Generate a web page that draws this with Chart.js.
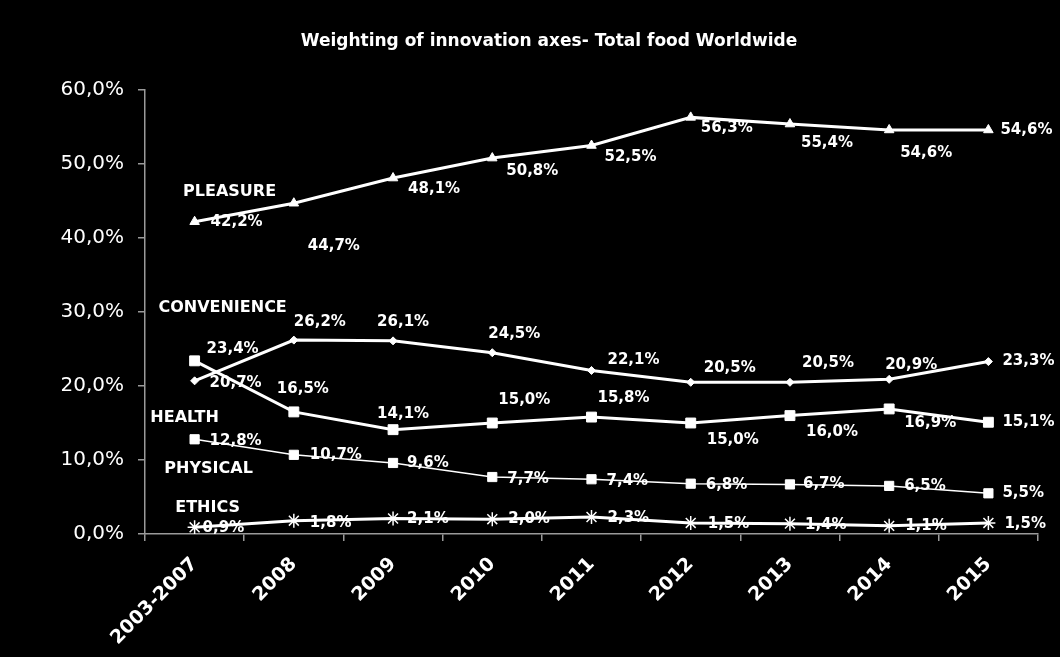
<!DOCTYPE html>
<html>
<head>
<meta charset="utf-8">
<script src="https://cdn.jsdelivr.net/npm/chart.js@4/dist/chart.umd.min.js"></script>
<style>
  html, body { margin: 0; padding: 0; background: #000; }
  #wrap { width: 1060px; height: 657px; position: relative; }
</style>
</head>
<body>
<div id="wrap"><canvas id="c" width="1060" height="657"></canvas></div>
<script>
// ---- data ----
const categories = ['2003-2007','2008','2009','2010','2011','2012','2013','2014','2015'];
const pleasure    = [42.2, 44.7, 48.1, 50.8, 52.5, 56.3, 55.4, 54.6, 54.6];
const convenience = [20.7, 26.2, 26.1, 24.5, 22.1, 20.5, 20.5, 20.9, 23.3];
const health      = [23.4, 16.5, 14.1, 15.0, 15.8, 15.0, 16.0, 16.9, 15.1];
const physical    = [12.8, 10.7, 9.6, 7.7, 7.4, 6.8, 6.7, 6.5, 5.5];
const ethics      = [0.9, 1.8, 2.1, 2.0, 2.3, 1.5, 1.4, 1.1, 1.5];
const seriesNames = ['PLEASURE','CONVENIENCE','HEALTH','PHYSICAL','ETHICS'];
const titleText = 'Weighting of innovation axes- Total food Worldwide';

// ---- label placement (left edge dx, vertical centre dy, px from point) ----
const labelOffsets = [
  [[16,0],[14,43],[15,11],[14,13],[13,12],[10,11],[11,19],[11,23],[12,0]],
  [[15,2],[0,-18],[-16,-19],[-4,-19],[16,-10],[13,-14],[12,-19],[-4,-14],[14,0]],
  [[12,-12],[-17,-23],[-16,-16],[6,-23],[6,-19],[16,17],[16,17],[15,14],[14,0]],
  [[15,2],[16,0],[14,0],[15,2],[15,2],[15,1],[13,0],[15,0],[14,0]],
  [[8,1],[16,2],[14,1],[16,0],[16,1],[17,1],[15,1],[16,0],[16,1]]
];
// series name annotations: [dx from first category centre (label centre), y value]
const nameAnchors = [[35,46.3],[28,30.5],[-10,15.65],[14,8.77],[13,3.5]];

const FONT = "'DejaVu Sans', Verdana, sans-serif";
const fmt = v => v.toFixed(1).replace('.', ',') + '%';

const labelPlugin = {
  id: 'labels',
  afterDatasetsDraw(chart) {
    const ctx = chart.ctx;
    ctx.save();
    ctx.fillStyle = '#fff';
    ctx.font = 'bold 15px ' + FONT;
    ctx.textAlign = 'left';
    ctx.textBaseline = 'middle';
    chart.data.datasets.forEach((ds, di) => {
      const meta = chart.getDatasetMeta(di);
      meta.data.forEach((pt, i) => {
        const off = labelOffsets[di][i];
        ctx.fillText(fmt(ds.data[i]), pt.x + off[0], pt.y + off[1]);
      });
    });
    // series names
    const xs = chart.scales.x, ys = chart.scales.y;
    const x0 = xs.getPixelForValue(0);
    ctx.font = 'bold 16px ' + FONT;
    ctx.textAlign = 'center';
    seriesNames.forEach((n, i) => {
      ctx.fillText(n, x0 + nameAnchors[i][0], ys.getPixelForValue(nameAnchors[i][1]));
    });
    // title
    ctx.font = 'bold 17px ' + FONT;
    ctx.fillText(titleText, 549, 42);
    ctx.restore();
  }
};

const mk = (data, style, radius, bw) => ({
  data,
  borderColor: '#fff',
  backgroundColor: '#fff',
  borderWidth: bw,
  pointStyle: style,
  pointRadius: radius,
  pointHoverRadius: radius,
  pointBorderWidth: style === 'star' ? 1.5 : 1,
  pointBorderColor: '#fff',
  pointBackgroundColor: '#fff',
  tension: 0
});

new Chart(document.getElementById('c'), {
  type: 'line',
  data: {
    labels: categories,
    datasets: [
      mk(pleasure, 'triangle', 5.5, 3),
      mk(convenience, 'rectRot', 4, 3),
      mk(health, 'rect', 7, 3),
      mk(physical, 'rect', 6.5, 1.5),
      mk(ethics, 'star', 7, 3)
    ]
  },
  options: {
    responsive: false,
    animation: false,
    devicePixelRatio: 1,
    layout: { padding: { left: 0, right: 22, top: 90, bottom: 0 } },
    plugins: { legend: { display: false }, tooltip: { enabled: false }, title: { display: false } },
    scales: {
      x: {
        type: 'category',
        offset: true,
        grid: { offset: true, drawOnChartArea: false, color: '#9a9a9a', tickLength: 7, lineWidth: 1.5 },
        border: { color: '#9a9a9a', width: 1.5 },
        ticks: {
          color: '#fff',
          font: { family: FONT, size: 19, weight: 'bold' },
          maxRotation: 45, minRotation: 45,
          padding: 12,
          autoSkip: false
        },
        afterFit(s) { s.height = 123; }
      },
      y: {
        min: 0, max: 60,
        grid: { drawOnChartArea: false, color: '#9a9a9a', tickLength: 7, lineWidth: 1.5 },
        border: { color: '#9a9a9a', width: 1.5 },
        ticks: {
          stepSize: 10,
          color: '#fff',
          font: { family: FONT, size: 20 },
          padding: 14,
          callback: v => fmt(v)
        },
        afterFit(s) { s.width = 145; }
      }
    }
  },
  plugins: [labelPlugin]
});
</script>
</body>
</html>
